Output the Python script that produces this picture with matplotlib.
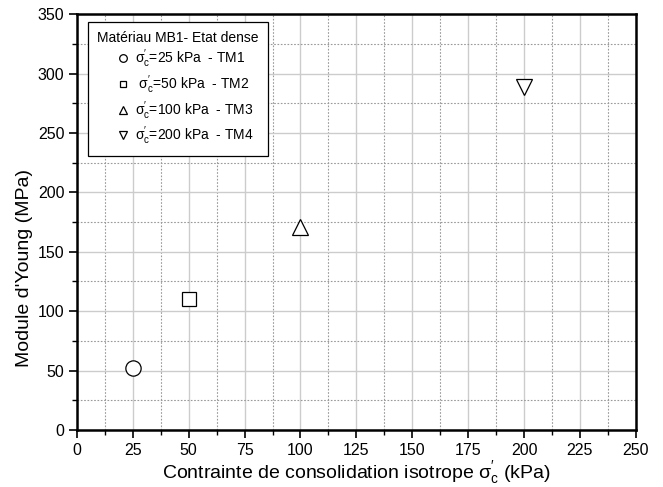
import matplotlib
matplotlib.use("Agg")
import matplotlib.pyplot as plt
from matplotlib.ticker import MultipleLocator

plt.rcParams['font.family'] = ['Liberation Sans', 'DejaVu Sans']
plt.rcParams['mathtext.fontset'] = 'custom'
plt.rcParams['mathtext.rm'] = 'Liberation Sans'
plt.rcParams['mathtext.it'] = 'Liberation Sans:italic'

# data
pressure = [25, 50, 100, 200]          # kPa
young = [52, 110, 171, 289]            # MPa
markers = ['o', 's', '^', 'v']
sizes = [11, 10, 12, 12]
sig = r"$\mathrm{\sigma}^{\prime}_{\mathrm{c}}$"
labels = [sig + "=25 kPa  - TM1",
          " " + sig + "=50 kPa  - TM2",
          sig + "=100 kPa  - TM3",
          sig + "=200 kPa  - TM4"]

fig = plt.figure(figsize=(6.63, 4.87), dpi=100)
ax = fig.add_axes([0.116, 0.117, 0.843, 0.854])

for x, y, m, ms, lab in zip(pressure, young, markers, sizes, labels):
    ax.plot(x, y, linestyle='none', marker=m, markersize=ms,
            markerfacecolor='white', markeredgecolor='black', markeredgewidth=0.9,
            label=lab)

ax.set_xlim(0, 250)
ax.set_ylim(0, 350)
ax.xaxis.set_major_locator(MultipleLocator(25))
ax.xaxis.set_minor_locator(MultipleLocator(12.5))
ax.yaxis.set_major_locator(MultipleLocator(50))
ax.yaxis.set_minor_locator(MultipleLocator(25))

ax.grid(which='major', color='#cccccc', linewidth=1.0, linestyle='-')
ax.grid(which='minor', color='#999999', linewidth=0.8, linestyle=(0, (1.5, 1.5)))
ax.set_axisbelow(True)

ax.tick_params(which='major', direction='out', length=6, width=1.2, labelsize=11.5, pad=3)
ax.tick_params(which='minor', direction='out', length=3.5, width=1.0)
for s in ax.spines.values():
    s.set_linewidth(1.8)

ax.set_xlabel("Contrainte de consolidation isotrope " + sig + " (kPa)", fontsize=14, labelpad=1)
ax.set_ylabel("Module d'Young (MPa)", fontsize=14, labelpad=0)
ax.yaxis.set_label_coords(-0.079, 0.39)

leg = ax.legend(title="Matériau MB1- Etat dense", loc='upper left',
                bbox_to_anchor=(0.02, 0.982), borderaxespad=0,
                fontsize=10, title_fontsize=10,
                markerscale=0.5, handlelength=3.0, handletextpad=-0.6,
                borderpad=0.65, labelspacing=0.22, fancybox=False,
                edgecolor='black', framealpha=1)
leg.get_frame().set_linewidth(0.9)

fig.savefig("out.png", dpi=100)
